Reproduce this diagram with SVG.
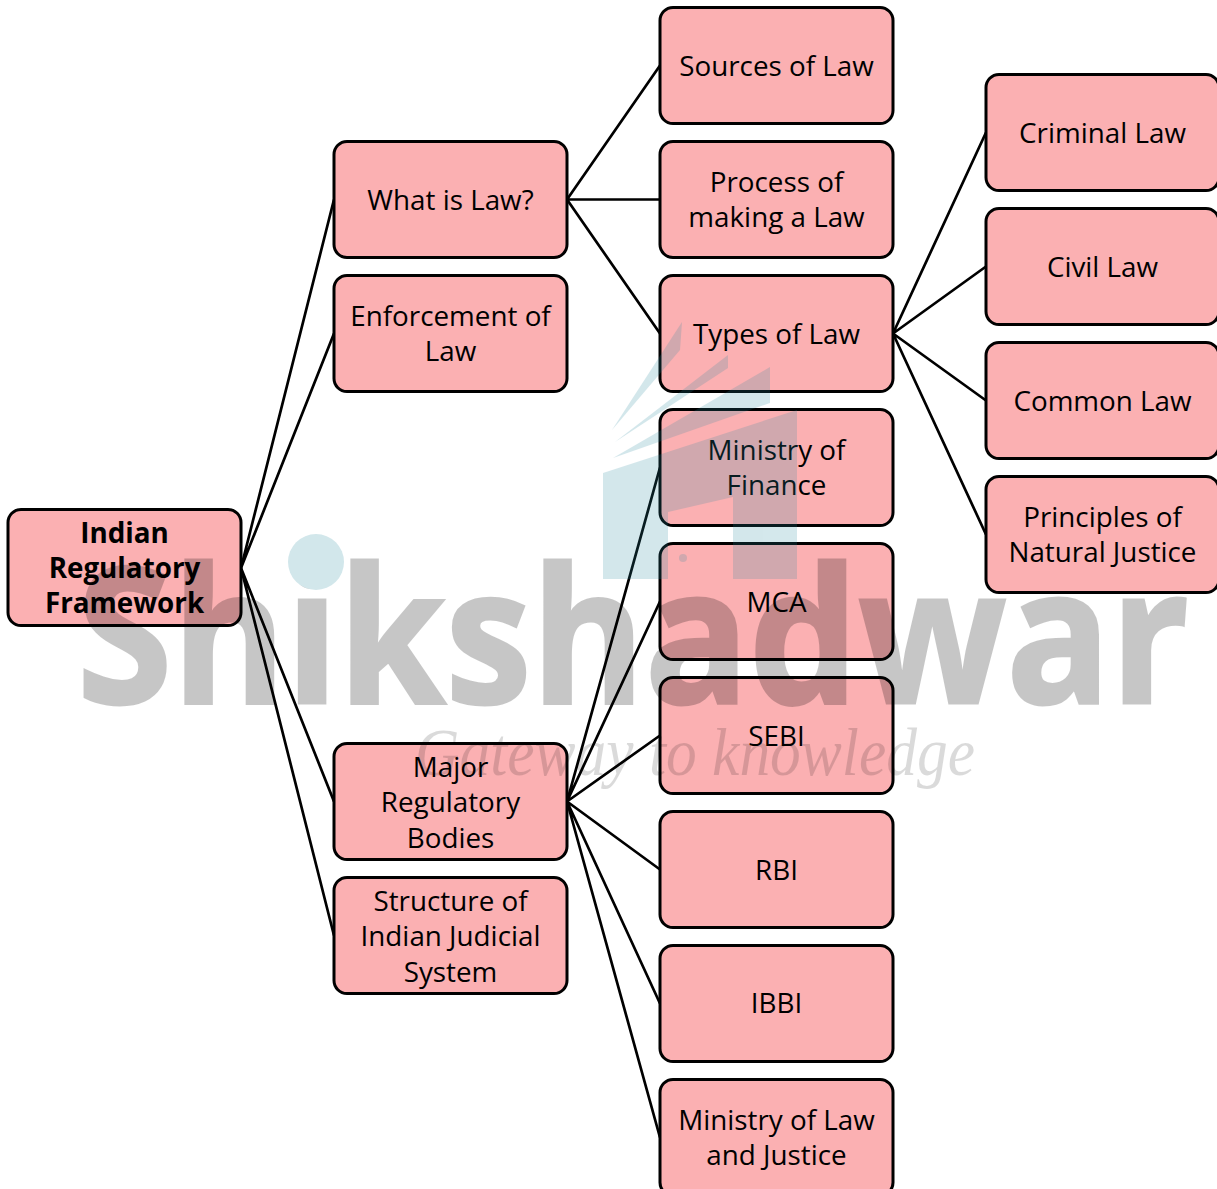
<svg xmlns="http://www.w3.org/2000/svg" width="1217" height="1189" viewBox="0 0 1217 1189">
<style>
.n{fill:#fbb0b2;stroke:#000;stroke-width:3}
.t{font-family:"Open Sans","Noto Sans",sans-serif;font-size:27.8px;text-anchor:middle;fill:#000}
.b{font-weight:700}
.c{stroke:#000;stroke-width:2.7;fill:none}
</style>
<defs><rect id="box" width="233" height="116" rx="13" class="n"/></defs>
<rect width="1217" height="1189" fill="#fff"/>
<g id="connectors" class="c">
<path d="M241 568L334 199.500M241 568L334 333.500M241 568L334 801.500M241 568L334 935.500"/>
<path d="M567 199.500L660 65.500M567 199.500L660 199.500M567 199.500L660 333.500"/>
<path d="M893 333.500L986 132.500M893 333.500L986 266.500M893 333.500L986 400.500M893 333.500L986 534.500"/>
<path d="M567 801.500L660 467.500M567 801.500L660 601.500M567 801.500L660 735.500M567 801.500L660 869.500M567 801.500L660 1003.500M567 801.500L660 1137.500"/>
</g>
<g id="root"><use href="#box" x="8" y="509.500"/><text class="t b" x="124.500" y="543">Indian</text><text class="t b" x="124.500" y="578">Regulatory</text><text class="t b" x="124.500" y="613">Framework</text></g>
<g id="what"><use href="#box" x="334" y="141.500"/><text class="t" x="450.500" y="210">What is Law?</text></g>
<g id="enforcement"><use href="#box" x="334" y="275.500"/><text class="t" x="450.500" y="326">Enforcement of</text><text class="t" x="450.500" y="361">Law</text></g>
<g id="major"><use href="#box" x="334" y="743.500"/><text class="t" x="450.500" y="777">Major</text><text class="t" x="450.500" y="812">Regulatory</text><text class="t" x="450.500" y="848">Bodies</text></g>
<g id="structure"><use href="#box" x="334" y="877.500"/><text class="t" x="450.500" y="911">Structure of</text><text class="t" x="450.500" y="946">Indian Judicial</text><text class="t" x="450.500" y="982">System</text></g>
<g id="sources"><use href="#box" x="660" y="7.500"/><text class="t" x="776.500" y="76">Sources of Law</text></g>
<g id="process"><use href="#box" x="660" y="141.500"/><text class="t" x="776.500" y="192">Process of</text><text class="t" x="776.500" y="227">making a Law</text></g>
<g id="types"><use href="#box" x="660" y="275.500"/><text class="t" x="776.500" y="344">Types of Law</text></g>
<g id="mof"><use href="#box" x="660" y="409.500"/><text class="t" x="776.500" y="460">Ministry of</text><text class="t" x="776.500" y="495">Finance</text></g>
<g id="mca"><use href="#box" x="660" y="543.500"/><text class="t" x="776.500" y="612">MCA</text></g>
<g id="sebi"><use href="#box" x="660" y="677.500"/><text class="t" x="776.500" y="746">SEBI</text></g>
<g id="rbi"><use href="#box" x="660" y="811.500"/><text class="t" x="776.500" y="880">RBI</text></g>
<g id="ibbi"><use href="#box" x="660" y="945.500"/><text class="t" x="776.500" y="1013">IBBI</text></g>
<g id="molj"><use href="#box" x="660" y="1079.500"/><text class="t" x="776.500" y="1130">Ministry of Law</text><text class="t" x="776.500" y="1165">and Justice</text></g>
<g id="criminal"><use href="#box" x="986" y="74.500"/><text class="t" x="1102.500" y="143">Criminal Law</text></g>
<g id="civil"><use href="#box" x="986" y="208.500"/><text class="t" x="1102.500" y="277">Civil Law</text></g>
<g id="common"><use href="#box" x="986" y="342.500"/><text class="t" x="1102.500" y="411">Common Law</text></g>
<g id="principles"><use href="#box" x="986" y="476.500"/><text class="t" x="1102.500" y="527">Principles of</text><text class="t" x="1102.500" y="562">Natural Justice</text></g>
<g id="watermark">
<g fill="#2a8aa0" opacity=".2">
<path d="M603 473L797 410V579H733V497L668 512V579H603Z"/>
<path d="M613 458L770 367V403Z"/>
<path d="M615 442L728 355V368Z"/>
<path d="M612 430L682 322L680 350Z"/>
<circle cx="683" cy="558" r="4"/>
</g>
<g opacity=".22"><text x="77" y="703" textLength="1112" lengthAdjust="spacingAndGlyphs" font-family="'Open Sans','Noto Sans',sans-serif" font-weight="700" font-size="188" fill="#000" stroke="#000" stroke-width="3">Shikshadwar</text></g>
<circle cx="316" cy="562" r="28" fill="#d2e7eb"/>
<text x="415" y="775" textLength="560" lengthAdjust="spacingAndGlyphs" font-family="'Liberation Serif',serif" font-style="italic" font-size="68" fill="#000" opacity=".14">Gateway to knowledge</text>
</g>
</svg>
